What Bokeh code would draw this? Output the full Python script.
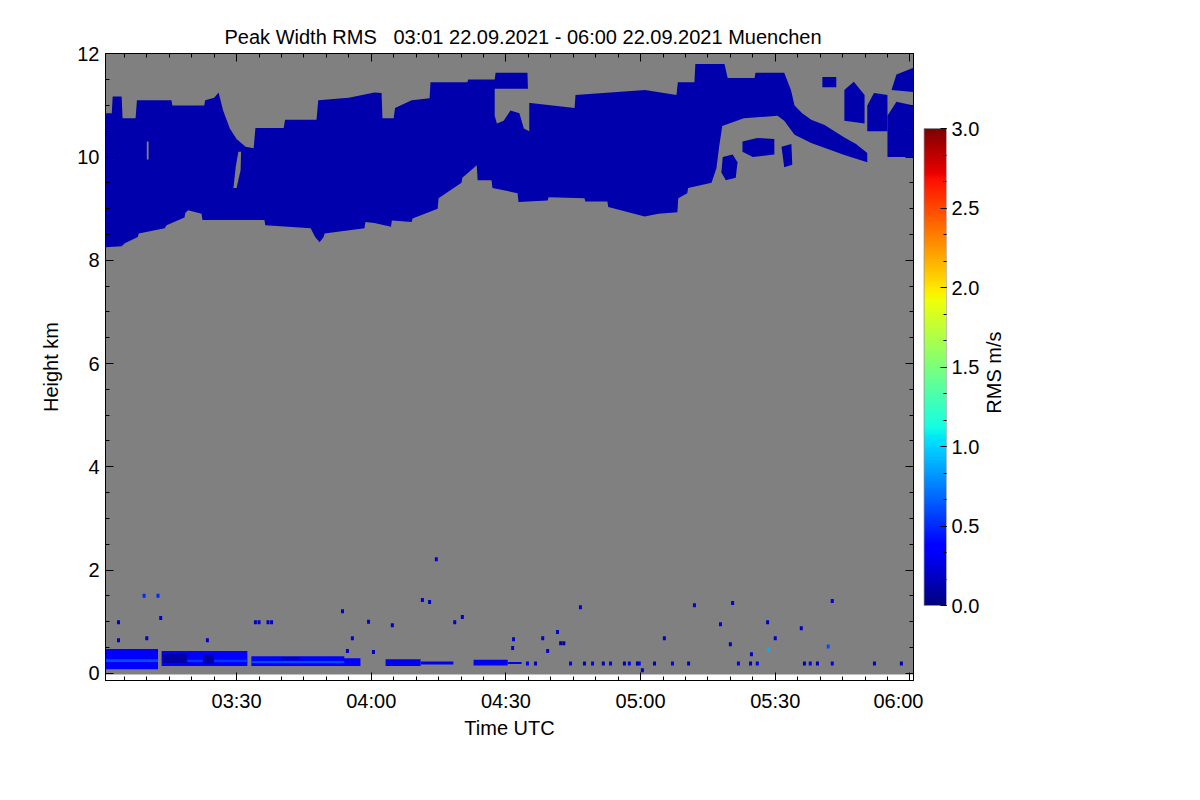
import math
import numpy as np
from bokeh.plotting import figure
from bokeh.layouts import row
from bokeh.core.properties import value
from bokeh.models import (ColumnDataSource, LinearColorMapper, FixedTicker, LinearAxis,
                          Range1d, PrintfTickFormatter)
from bokeh.transform import transform
from bokeh.embed import file_html
from bokeh.resources import INLINE

FONT = "Liberation Sans"
FS = "20px"

# ---------------- data (time: minutes after 03:00 UTC, height: km, value: RMS m/s) -------------
time_extent = [0.8, 180.8]
height_extent = [-0.025, 12.0]

cloud_value = 0.12
top_t = [0.8, 2.2, 2.4, 4.4, 4.6, 7.5, 7.8, 15.5, 15.7, 22.8, 23.0, 25.0, 26.0, 27.0, 28.5, 30.0,
         32.0, 33.8, 34.2, 40.5, 40.8, 47.8, 48.2, 55.0, 60.7, 62.3, 62.5, 65.0, 65.3, 69.0, 73.0,
         73.2, 81.4, 81.6, 87.5, 87.7, 94.8, 95.0, 105.3, 105.5, 121.0, 128.0, 128.3, 132.0, 132.2,
         138.7, 139.4, 145.4, 145.6, 152.0, 153.5, 154.3, 156.0, 158.0, 161.0, 165.4, 168.0, 170.5]
top_h = [10.85, 10.85, 11.17, 11.17, 10.75, 10.75, 11.1, 11.1, 11.0, 11.0, 11.1, 11.15, 11.25, 10.9,
         10.55, 10.35, 10.2, 10.17, 10.56, 10.56, 10.72, 10.72, 11.1, 11.15, 11.25, 11.24, 10.75,
         10.75, 10.95, 11.1, 11.14, 11.45, 11.45, 11.5, 11.5, 11.63, 11.63, 11.05, 10.95, 11.2, 11.3,
         11.2, 11.45, 11.45, 11.8, 11.8, 11.53, 11.53, 11.63, 11.63, 11.3, 11.0, 10.85, 10.72, 10.62,
         10.38, 10.25, 10.08]
base_t = [0.8, 4.4, 5.1, 8.0, 8.2, 14.0, 14.4, 18.4, 18.6, 19.2, 22.2, 22.4, 36.2, 36.4, 46.5, 47.5,
          48.5, 49.4, 49.6, 58.5, 58.7, 60.7, 64.4, 64.6, 69.0, 69.2, 74.8, 75.0, 80.1, 80.3, 83.0,
          83.5, 83.7, 86.8, 87.0, 92.6, 92.8, 99.3, 99.5, 107.5, 107.7, 112.6, 112.8, 120.9, 124.0,
          128.2, 128.4, 130.4, 130.6, 135.8, 136.9, 137.5, 138.2, 143.0, 150.5, 152.0, 154.3, 158.0,
          165.4, 170.5]
base_h = [8.25, 8.27, 8.33, 8.45, 8.52, 8.62, 8.68, 8.83, 8.92, 8.97, 8.9, 8.78, 8.78, 8.68, 8.62,
          8.45, 8.35, 8.45, 8.52, 8.62, 8.74, 8.72, 8.65, 8.77, 8.74, 8.81, 9.0, 9.2, 9.5, 9.6, 9.8,
          9.84, 9.55, 9.55, 9.4, 9.3, 9.13, 9.16, 9.22, 9.2, 9.14, 9.14, 9.03, 8.85, 8.9, 8.93, 9.2,
          9.3, 9.4, 9.5, 9.78, 10.2, 10.6, 10.75, 10.8, 10.7, 10.43, 10.27, 10.04, 9.9]

frag_t = [[138.0, 139.0, 141.2, 141.6, 140.5, 138.3],
          [142.7, 145.0, 149.8, 149.8, 146.0, 142.7],
          [151.4, 152.0, 153.8, 153.6],
          [165.4, 169.9, 169.9, 167.5, 165.4],
          [160.5, 163.6, 163.6, 160.5],
          [170.5, 175.0, 175.0, 172.0, 170.5],
          [175.0, 180.8, 180.8, 177.0, 175.0],
          [175.9, 180.8, 180.8, 177.0]]
frag_h = [[9.7, 9.55, 9.6, 9.9, 10.05, 10.0],
          [10.1, 10.0, 10.05, 10.35, 10.37, 10.3],
          [10.2, 9.8, 9.85, 10.25],
          [10.7, 10.65, 11.2, 11.46, 11.3],
          [11.35, 11.35, 11.55, 11.55],
          [10.5, 10.5, 11.2, 11.24, 11.0],
          [10.0, 10.0, 11.0, 11.07, 10.8],
          [11.3, 11.26, 11.73, 11.6]]
frag_v = [0.12, 0.12, 0.12, 0.12, 0.12, 0.12, 0.12, 0.12]

# regions without signal inside the cloud
hole_t = [[87.5, 95.2, 95.2, 94.0, 93.0, 91.0, 89.5, 88.0, 87.5],
          [30.4, 31.0, 30.9, 30.0, 29.3, 29.8],
          [10.0, 10.4, 10.4, 10.0]]
hole_h = [[11.32, 11.32, 10.5, 10.55, 10.85, 10.9, 10.7, 10.65, 10.8],
          [10.1, 10.1, 9.75, 9.4, 9.4, 9.8],
          [10.3, 10.3, 9.95, 9.95]]

# boundary-layer band
band_t0 = [0.8, 13.3, 33.3, 53.2, 0.8, 13.3, 33.3, 13.5, 22.5, 40.0, 63.2, 71.0, 82.8, 90.4]
band_t1 = [12.5, 32.4, 54.0, 57.6, 12.5, 32.4, 54.0, 19.0, 25.0, 44.0, 71.0, 78.3, 90.4, 93.5]
band_h0 = [0.08, 0.14, 0.14, 0.14, 0.22, 0.22, 0.20, 0.20, 0.18, 0.26, 0.14, 0.17, 0.15, 0.18]
band_h1 = [0.47, 0.43, 0.33, 0.29, 0.27, 0.26, 0.24, 0.38, 0.36, 0.31, 0.27, 0.23, 0.26, 0.22]
band_v = [0.33, 0.33, 0.38, 0.33, 0.60, 0.55, 0.60, 0.10, 0.10, 0.15, 0.30, 0.30, 0.30, 0.30]

# isolated echoes
dot_t = [3.7, 13.1, 10.0, 3.7, 23.5, 34.2, 35.0, 37.0, 37.8, 9.4, 12.5, 53.6, 59.4, 74.5, 71.4, 73.0,
         64.7, 78.6, 80.3, 106.6, 55.8, 101.5, 98.2, 102.2, 102.9, 91.7, 91.5, 99.3, 60.5, 54.7,
         132.0, 140.5, 162.7, 137.8, 125.3, 148.3, 155.8, 150.0, 148.5, 161.8, 144.7, 140.0, 120.4,
         94.8, 96.6, 104.4, 107.5, 109.3, 111.7, 113.3, 116.4, 117.5, 119.3, 119.7, 123.1, 127.1,
         130.7, 141.8, 144.5, 146.0, 156.5, 157.8, 159.4, 162.7, 172.1, 178.1]
dot_h = [0.99, 1.07, 0.68, 0.64, 0.64, 0.99, 0.99, 0.99, 0.99, 1.5, 1.5, 1.2, 1.0, 2.21, 1.42, 1.38,
         0.93, 0.99, 1.09, 1.28, 0.68, 0.8, 0.68, 0.58, 0.58, 0.66, 0.49, 0.43, 0.41, 0.43,
         1.32, 1.36, 1.4, 0.95, 0.68, 0.99, 0.87, 0.68, 0.45, 0.52, 0.37, 0.56, 0.06,
         0.19, 0.19, 0.19, 0.19, 0.19, 0.19, 0.19, 0.19, 0.19, 0.19, 0.19, 0.19, 0.19,
         0.19, 0.19, 0.19, 0.19, 0.19, 0.19, 0.19, 0.19, 0.19, 0.19]
dot_v = [0.2, 0.2, 0.2, 0.2, 0.2, 0.2, 0.2, 0.2, 0.2, 0.5, 0.5, 0.2, 0.2, 0.25, 0.2, 0.2,
         0.2, 0.2, 0.2, 0.25, 0.25, 0.2, 0.2, 0.1, 0.1, 0.2, 0.2, 0.2, 0.2, 0.2,
         0.25, 0.2, 0.25, 0.25, 0.2, 0.2, 0.2, 0.2, 0.9, 0.6, 0.2, 0.15, 0.2,
         0.3, 0.15, 0.3, 0.15, 0.3, 0.15, 0.3, 0.15, 0.3, 0.1, 0.3, 0.15, 0.3,
         0.15, 0.3, 0.15, 0.3, 0.1, 0.3, 0.15, 0.3, 0.2, 0.15]

time_ticks = [30, 60, 90, 120, 150, 180]
time_labels = ["03:30", "04:00", "04:30", "05:00", "05:30", "06:00"]
time_minor = list(range(5, 181, 5))
height_ticks = [0, 2, 4, 6, 8, 10, 12]
height_minor = [i * 0.5 for i in range(25)]
rms_ticks = [0.0, 0.5, 1.0, 1.5, 2.0, 2.5, 3.0]
rms_minor = [i / 6 for i in range(19)]
rms_range = [0.0, 3.0]

title_text = "Peak Width RMS \u00a0 03:01 22.09.2021 - 06:00 22.09.2021 Muenchen"
cb_label_text = "RMS m/s"

# ---------------- jet-like palette ----------------
f = np.linspace(0, 1, 256)
r = np.interp(f, [0, 0.35, 0.66, 0.89, 1], [0, 0, 1, 1, 0.5])
g = np.interp(f, [0, 0.125, 0.375, 0.64, 0.91, 1], [0, 0, 1, 1, 0, 0])
b = np.interp(f, [0, 0.11, 0.34, 0.65, 1], [0.5, 1, 1, 0, 0])
JET = ["#%02x%02x%02x" % (int(round(R * 255)), int(round(G * 255)), int(round(B * 255)))
       for R, G, B in zip(r, g, b)]
GRAY = "#808080"
mapper = LinearColorMapper(palette=JET, low=rms_range[0], high=rms_range[1], nan_color=GRAY)

# layout in pixels
H = 760
FRAME_TOP, FRAME_BOTTOM = 53, 680
MAIN_LEFT, MAIN_FRAME_W, MAIN_RIGHT = 105, 808, 10
CB_TOP, CB_BOTTOM, CB_W, CB_RIGHT = 128, 605, 25, 34
LAB_W, LAB_RIGHT = 40, 20

# ---------------- main figure ----------------
p = figure(width=MAIN_LEFT + MAIN_FRAME_W + MAIN_RIGHT, height=H, output_backend="svg",
           toolbar_location=None,
           x_range=Range1d(time_extent[0], time_extent[1]),
           y_range=Range1d(-0.14, 12.005),
           min_border_left=MAIN_LEFT, min_border_right=MAIN_RIGHT,
           min_border_top=FRAME_TOP, min_border_bottom=H - FRAME_BOTTOM,
           title=title_text)
p.title.align = "left"
p.title.offset = 119
p.title.text_font = FONT
p.title.text_font_size = FS
p.title.text_font_style = "normal"
p.title.text_color = "black"
p.title.standoff = 12
p.grid.visible = False
p.outline_line_color = "black"
p.background_fill_color = "white"
p.border_fill_color = "white"

p.quad(left=[time_extent[0]], right=[time_extent[1]], bottom=[height_extent[0]],
       top=[height_extent[1]], fill_color=GRAY, line_color=None)

cloud_src = ColumnDataSource(dict(xs=[top_t + base_t[::-1]] + frag_t,
                                  ys=[top_h + base_h[::-1]] + frag_h,
                                  value=[cloud_value] + frag_v))
p.patches("xs", "ys", source=cloud_src, fill_color=transform("value", mapper), line_color=None)
p.patches(hole_t, hole_h, fill_color=GRAY, line_color=None)

band_src = ColumnDataSource(dict(l=band_t0, r=band_t1, b=band_h0, t=band_h1, value=band_v))
p.quad(left="l", right="r", bottom="b", top="t", source=band_src,
       fill_color=transform("value", mapper), line_color=None)

dot_src = ColumnDataSource(dict(x=dot_t, y=dot_h, value=dot_v))
p.rect(x="x", y="y", width=3, height=4, width_units="screen", height_units="screen",
       source=dot_src, fill_color=transform("value", mapper), line_color=None)


def style_axis(ax):
    ax.major_tick_in = 8
    ax.major_tick_out = 0
    ax.minor_tick_in = 4
    ax.minor_tick_out = 0
    ax.axis_line_color = "black"
    ax.major_tick_line_color = "black"
    ax.minor_tick_line_color = "black"
    ax.major_label_text_font = FONT
    ax.major_label_text_font_size = FS
    ax.major_label_text_color = "black"
    ax.axis_label_text_font = FONT
    ax.axis_label_text_font_size = FS
    ax.axis_label_text_font_style = "normal"
    ax.axis_label_text_color = "black"


xa = p.xaxis[0]
xa.ticker = FixedTicker(ticks=time_ticks, minor_ticks=time_minor)
xa.major_label_overrides = {t: lab for t, lab in zip(time_ticks, time_labels)}
xa.axis_label = "Time UTC"
style_axis(xa)
xa.major_label_standoff = 9
xa.axis_label_standoff = 2

ya = p.yaxis[0]
ya.ticker = FixedTicker(ticks=height_ticks, minor_ticks=height_minor)
ya.axis_label = "Height km"
style_axis(ya)
ya.major_label_standoff = 6
ya.axis_label_standoff = 12

top_ax = LinearAxis(ticker=FixedTicker(ticks=time_ticks, minor_ticks=time_minor),
                    major_label_overrides={t: "" for t in time_ticks})
style_axis(top_ax)
top_ax.major_label_standoff = 0
p.add_layout(top_ax, "above")

right_ax = LinearAxis(ticker=FixedTicker(ticks=height_ticks, minor_ticks=height_minor),
                      major_label_overrides={t: "" for t in height_ticks})
style_axis(right_ax)
right_ax.major_label_standoff = 0
p.add_layout(right_ax, "right")

# ---------------- colour bar figure (same frame rows as the main plot) ----------------
ppu = (CB_BOTTOM - CB_TOP) / (rms_range[1] - rms_range[0])
cb_lo = rms_range[0] - (FRAME_BOTTOM - CB_BOTTOM) / ppu
cb_hi = rms_range[1] + (CB_TOP - FRAME_TOP) / ppu
cb = figure(width=CB_W + CB_RIGHT, height=H, output_backend="svg", toolbar_location=None,
            x_range=Range1d(-0.02, 1.0), y_range=Range1d(cb_lo, cb_hi),
            x_axis_location=None, y_axis_location="right",
            min_border_left=0, min_border_right=CB_RIGHT,
            min_border_top=FRAME_TOP, min_border_bottom=H - FRAME_BOTTOM)
cb.grid.visible = False
cb.outline_line_color = None
cb.border_fill_color = "white"
cb.image(image=[np.linspace(rms_range[0], rms_range[1], 256).reshape(-1, 1)],
         x=0, y=rms_range[0], dw=1, dh=rms_range[1] - rms_range[0], color_mapper=mapper)
cb.quad(left=[0], right=[1], bottom=[rms_range[0]], top=[rms_range[1]],
        fill_color=None, line_color="#909090", line_width=1)
ca = cb.yaxis[0]
ca.ticker = FixedTicker(ticks=rms_ticks, minor_ticks=rms_minor)
ca.formatter = PrintfTickFormatter(format="%.1f")
style_axis(ca)
ca.axis_line_color = None
ca.major_tick_in = 6
ca.minor_tick_in = 3
ca.major_label_standoff = 5

# ---------------- colour bar title (vertical text) ----------------
lab = figure(width=LAB_W + LAB_RIGHT, height=H, output_backend="svg", toolbar_location=None,
             x_range=Range1d(0, 1), y_range=Range1d(cb_lo, cb_hi),
             x_axis_location=None, y_axis_location=None,
             min_border_left=0, min_border_right=LAB_RIGHT,
             min_border_top=FRAME_TOP, min_border_bottom=H - FRAME_BOTTOM)
lab.grid.visible = False
lab.outline_line_color = None
lab.border_fill_color = "white"
lab.background_fill_color = "white"
lab.text(x=[0.29], y=[(rms_range[0] + rms_range[1]) / 2 - 0.035], text=[cb_label_text],
         angle=math.pi / 2, text_align="center", text_baseline="middle",
         text_font=value(FONT), text_font_size=FS, text_color="black")

layout = row(p, cb, lab)
open("out.html", "w").write(file_html(layout, INLINE))
